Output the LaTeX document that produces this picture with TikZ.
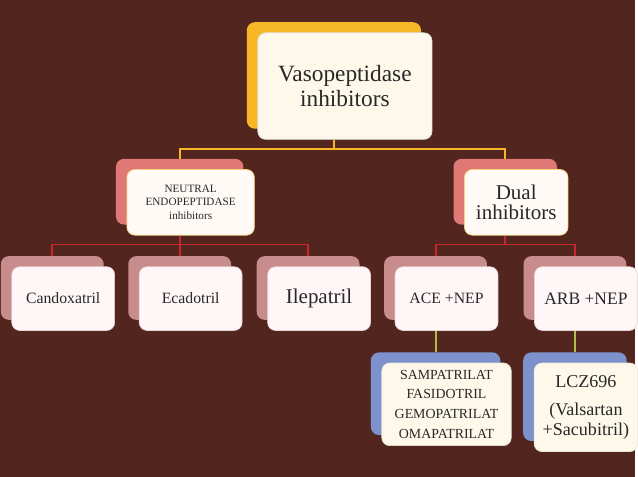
\documentclass[tikz,border=0pt]{standalone}
\usepackage{fontspec}
\setmainfont{Liberation Serif}
\usetikzlibrary{shadows, positioning, calc}
\definecolor{bgbrown}{RGB}{82, 38, 30}
\definecolor{goldback}{RGB}{247, 183, 38}
\definecolor{creamfront}{RGB}{253, 248, 234}
\definecolor{salmonback}{RGB}{224, 120, 118}
\definecolor{roseback}{RGB}{200, 140, 140}
\definecolor{roseline}{RGB}{200, 40, 45}
\definecolor{blueback}{RGB}{125, 145, 205}
\definecolor{oliveline}{RGB}{175, 190, 75}
\definecolor{inkgray}{RGB}{40, 40, 40}

\begin{document}
\begin{tikzpicture}[
  sheet/.style={rectangle, rounded corners=0.24cm, line width=0.6pt, text=inkgray,
                align=center, inner sep=1pt},
  back/.style={copy shadow={shadow xshift=-0.33cm, shadow yshift=0.32cm, draw=none, fill=#1}},
  head/.style={sheet, back=goldback, fill=creamfront, draw=gray!25,
               minimum width=5.25cm, minimum height=3.21cm, font=\fontsize{20}{21}\selectfont},
  group/.style={sheet, back=salmonback, fill=white!96!orange, draw=goldback!60,
                minimum width=#1, minimum height=1.98cm},
  drug/.style={sheet, back=roseback, fill=white!97!red, draw=roseback!40,
               minimum width=3.1cm, minimum height=1.92cm, font=\fontsize{13.5}{15}\selectfont},
  agent/.style={sheet, back=blueback, fill=creamfront, draw=creamfront!85!gray,
                minimum width=#1, minimum height=2.49cm},
  link/.style={line width=1.6pt, #1}
]
  \fill[bgbrown] (0,0) rectangle (19.14,-14.37);

  \node[head] (top) at (10.395,-2.595) {Vasopeptidase\\inhibitors};

  % third row, left to right
  \node[drug] (cand) at (1.905,-9.0) {Candoxatril};
  \node[drug, right=0.72cm of cand] (ecad) {Ecadotril};
  \node[drug, right=0.75cm of ecad, font=\fontsize{18}{20}\selectfont] (ilep) {Ilepatril};
  \node[drug, right=0.72cm of ilep] (ace) {ACE +NEP};
  \node[drug, right=1.08cm of ace, font=\fontsize{15}{17}\selectfont] (arb) {ARB +NEP};

  \node[group=3.84cm, above=0.93cm of ecad, font=\fontsize{9.6}{11.5}\selectfont] (nep)
    {NEUTRAL\\ENDOPEPTIDASE\\inhibitors};
  \coordinate (dualpos) at ($(ace.north)!0.5!(arb.north)$);
  \node[group=3.12cm, above=0.93cm of dualpos, font=\fontsize{18}{17}\selectfont] (dual)
    {Dual\\inhibitors};

  \node[agent=3.9cm, below=0.96cm of ace, font=\fontsize{11.9}{17}\selectfont] (sam)
    {SAMPATRILAT\\FASIDOTRIL\\GEMOPATRILAT\\OMAPATRILAT};
  \node[agent=3.12cm, below=0.96cm of arb, minimum height=2.67cm,
        font=\fontsize{15.5}{17}\selectfont] (lcz)
    {LCZ696\\[7pt](Valsartan\\+Sacubitril)};

  % connectors run between the back sheets
  \draw[link=goldback] ([xshift=-0.33cm]top.south) -- ++(0,-0.27) -| ([shift={(-0.33,0.32)}]nep.north);
  \draw[link=goldback] ([xshift=-0.33cm]top.south) -- ++(0,-0.27) -| ([shift={(-0.33,0.32)}]dual.north);
  \foreach \kid in {cand, ecad, ilep}
    \draw[link=roseline] ([xshift=-0.33cm]nep.south) -- ++(0,-0.27) -| ([shift={(-0.33,0.32)}]\kid.north);
  \foreach \kid in {ace, arb}
    \draw[link=roseline] ([xshift=-0.33cm]dual.south) -- ++(0,-0.27) -| ([shift={(-0.33,0.32)}]\kid.north);
  \draw[link=oliveline] ([xshift=-0.33cm]ace.south) -- ([shift={(-0.33,0.32)}]sam.north);
  \draw[link=oliveline] ([xshift=-0.33cm]arb.south) -- ([shift={(-0.33,0.32)}]lcz.north);
\end{tikzpicture}
\end{document}
